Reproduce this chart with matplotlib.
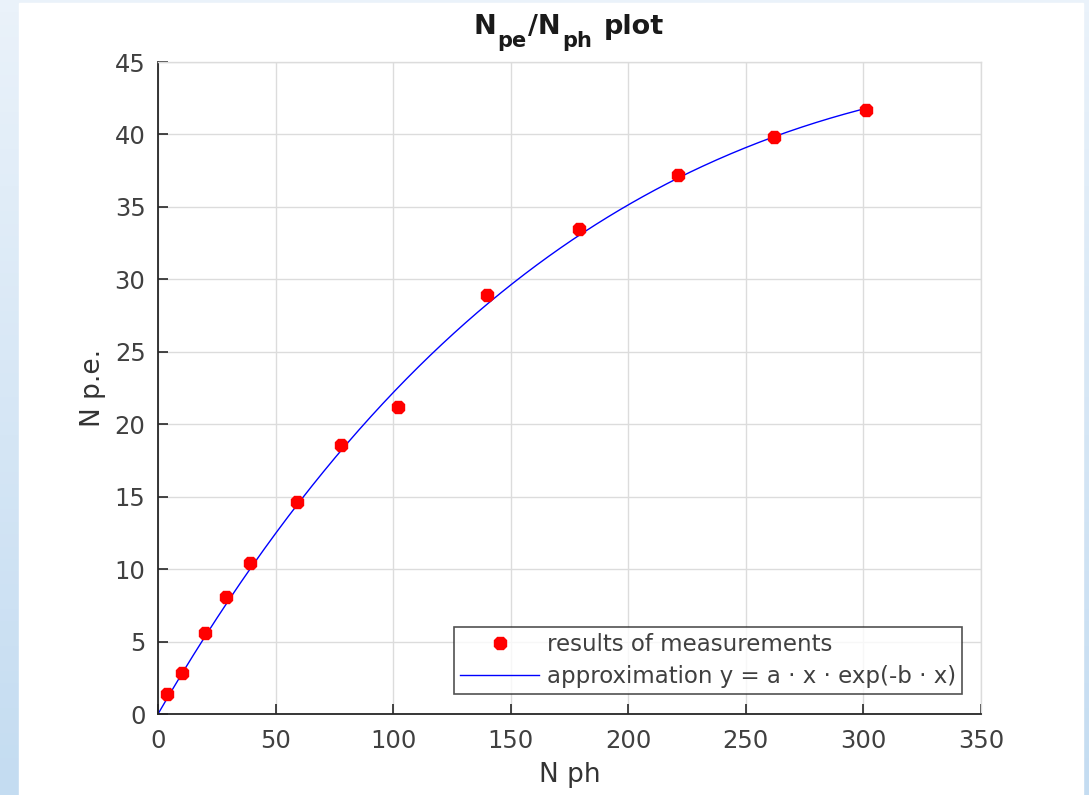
import matplotlib
matplotlib.use('Agg')
import matplotlib.pyplot as plt
from matplotlib.transforms import IdentityTransform
import numpy as np

# measured points
n_ph = [4, 10, 20, 29, 39, 59, 78, 102, 140, 179, 221, 262, 301]
n_pe = [1.4, 2.8, 5.6, 8.1, 10.4, 14.6, 18.6, 21.2, 28.9, 33.5, 37.2, 39.8, 41.7]

# fitted parameters of y = a*x*exp(-b*x)
fit_a = 0.28
fit_b = 0.00233

x_ticks = [0, 50, 100, 150, 200, 250, 300, 350]
y_ticks = [0, 5, 10, 15, 20, 25, 30, 35, 40, 45]

# title pieces: (text, is subscript)
title_parts = [('N', False), ('pe', True), ('/N', False), ('ph', True), ('plot', False)]

text_col = '#404040'
axis_col = '#262626'
grid_col = '#dcdcdc'
W, H = 1089, 795

fig = plt.figure(figsize=(W/100, H/100), dpi=100)

#light blue gradient backdrop with white canvas on top
bg = fig.add_axes([0, 0, 1, 1], zorder=-10)
gy = np.linspace(0, 1, 64)[:, None] * np.ones((1, 8))
c_top = np.array([234, 242, 250]) / 255
c_low = np.array([196, 220, 241]) / 255
img = c_top + (c_low - c_top)*gy[..., None]
bg.imshow(img, extent=[0, 1, 0, 1], aspect='auto', origin='upper')
bg.add_patch(plt.Rectangle((19/W, 0), (1083-19)/W, 1-3/H,
	transform=bg.transAxes, color='white', zorder=2))
bg.set_xlim(0, 1)
bg.set_ylim(0, 1)
bg.axis('off')

ax = fig.add_axes([158/W, 1-714/H, (981-158)/W, (714-62)/H])

xx = np.linspace(0, n_ph[-1], 300)
ax.plot(n_ph, n_pe, linestyle='none', marker='8', markersize=9.5,
	color='#ff0000', label='results of measurements', zorder=3)
ax.plot(xx, fit_a*xx*np.exp(-fit_b*xx), color='#0000ff', linewidth=1,
	label='approximation y = a \u00b7 x \u00b7 exp(-b \u00b7 x)', zorder=2)

ax.set_xlim(0, 350)
ax.set_ylim(0, 45)
ax.set_xticks(x_ticks)
ax.set_yticks(y_ticks)
ax.grid(True, color=grid_col, linewidth=1)
ax.set_axisbelow(True)
ax.tick_params(direction='in', length=7, width=1.2, colors=axis_col,
	labelcolor=text_col, labelsize=17.5)
ax.tick_params(axis='x', pad=11)
ax.tick_params(axis='y', pad=9)
for s in ['left', 'bottom']:
	ax.spines[s].set_color(axis_col)
	ax.spines[s].set_linewidth(1.3)
for s in ['top', 'right']:
	ax.spines[s].set_color(grid_col)
	ax.spines[s].set_linewidth(1)

ax.set_xlabel('N ph', fontsize=19, color='#333333', labelpad=6)
ax.set_ylabel('N p.e.', fontsize=19, color='#333333', labelpad=6)

leg = ax.legend(loc='lower right', bbox_to_anchor=(0.977, 0.031), fontsize=16.5,
	frameon=True, fancybox=False, borderpad=0.25, labelspacing=0.4,
	handlelength=3.45, handletextpad=0.35, borderaxespad=0)
leg.get_frame().set_edgecolor(axis_col)
leg.get_frame().set_linewidth(1.2)
for t_ in leg.get_texts():
	t_.set_color(text_col)

#title built piece by piece so subscripts stay large
renderer = fig.canvas.get_renderer()
base_main = H - 34
base_sub = H - 47
pieces = []
x = 0
for i, (s, sub) in enumerate(title_parts):
	if s == 'plot':
		x += 10
	t = fig.text(x, base_sub if sub else base_main, s, transform=IdentityTransform(),
		fontsize=15 if sub else 19.5, fontweight='bold', color='#1a1a1a',
		va='baseline', ha='left')
	w = t.get_window_extent(renderer).width
	pieces.append(t)
	x += w + 1.5
shift = (158 + 981)/2 - x/2
for t in pieces:
	px, py = t.get_position()
	t.set_position((px + shift, py))

fig.savefig('out.png', dpi=100)
